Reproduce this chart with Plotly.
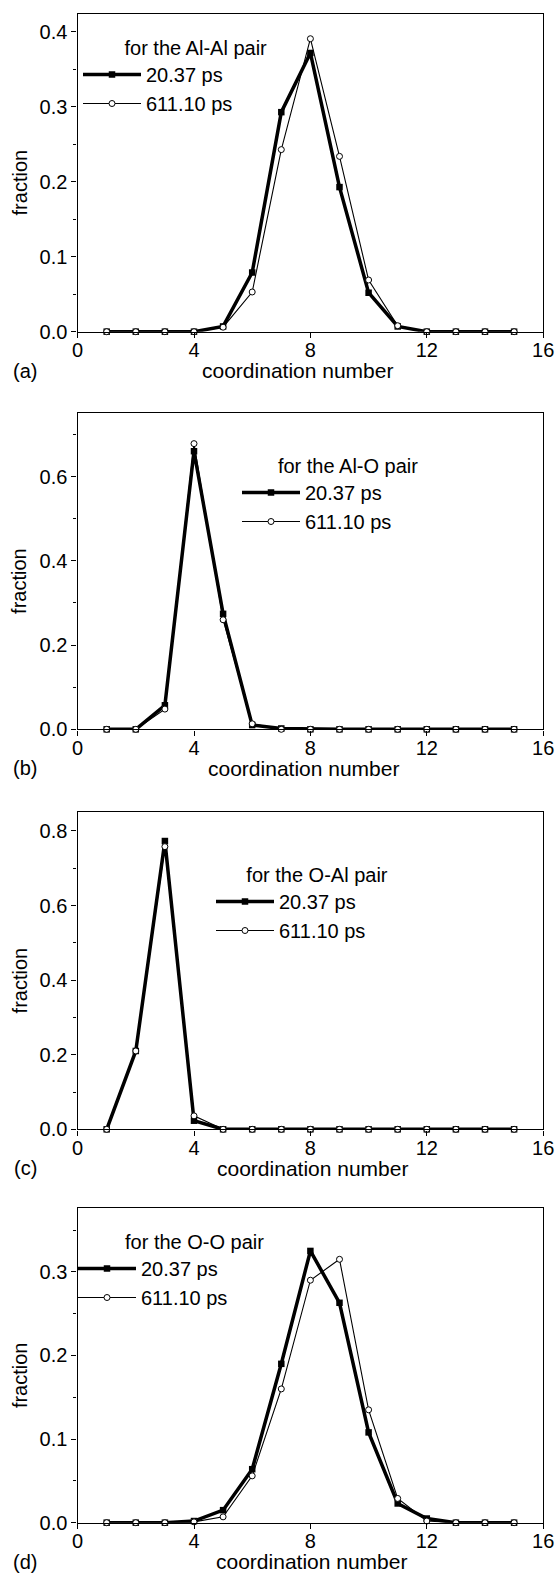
import plotly.graph_objects as go

W, H = 557, 1575

# ---------------- data ----------------
coordination = list(range(1, 16))
series_names = ["20.37 ps", "611.10 ps"]
panel_tags = ["(a)", "(b)", "(c)", "(d)"]
pair_titles = ["for the Al-Al pair", "for the Al-O pair", "for the O-Al pair", "for the O-O pair"]

alal_2037 = [0, 0, 0, 0, 0.007, 0.079, 0.293, 0.372, 0.193, 0.052, 0.007, 0, 0, 0, 0]
alal_61110 = [0, 0, 0, 0, 0.006, 0.053, 0.243, 0.391, 0.234, 0.069, 0.008, 0, 0, 0, 0]
alo_2037 = [0, 0, 0.057, 0.660, 0.274, 0.010, 0.002, 0, 0, 0, 0, 0, 0, 0, 0]
alo_61110 = [0, 0, 0.048, 0.678, 0.260, 0.013, 0, 0, 0, 0, 0, 0, 0, 0, 0]
oal_2037 = [0, 0.210, 0.773, 0.023, 0, 0, 0, 0, 0, 0, 0, 0, 0, 0, 0]
oal_61110 = [0, 0.210, 0.758, 0.036, 0, 0, 0, 0, 0, 0, 0, 0, 0, 0, 0]
oo_2037 = [0, 0, 0, 0.002, 0.015, 0.064, 0.190, 0.325, 0.263, 0.108, 0.023, 0.005, 0, 0, 0]
oo_61110 = [0, 0, 0, 0.001, 0.007, 0.056, 0.160, 0.290, 0.315, 0.135, 0.029, 0.002, 0, 0, 0]

panel_data = [(alal_2037, alal_61110), (alo_2037, alo_61110),
              (oal_2037, oal_61110), (oo_2037, oo_61110)]
y_max = [0.424, 0.75, 0.85, 0.376]
y_step = [0.1, 0.2, 0.2, 0.1]
x_ticks = [0, 4, 8, 12, 16]

# ---------------- layout geometry (pixels) ----------------
x_left, x_right = 77.6, 543.2
panel_top = [14.0, 413.3, 812.3, 1208.3]
panel_bot = [331.7, 729.3, 1129.3, 1522.7]
legend_px = [(78, 29), (237, 447), (211, 856), (73, 1223)]
title_indent = [8, 7, 6, 9]
xtitle_cx = [297, 303, 312, 311]
xtitle_gap = 39
tag_cx = 25

FONT = "Liberation Sans, Arial, Helvetica, sans-serif"
FS = 20


def px(x):
    return x / W


def py(y):
    return 1 - y / H


fig = go.Figure()
layout = dict(
    width=W, height=H,
    margin=dict(l=0, r=0, t=0, b=0, autoexpand=False),
    paper_bgcolor="white", plot_bgcolor="white",
    font=dict(family=FONT, size=FS, color="black"),
    showlegend=True,
)
annotations = []

for i in range(4):
    n = i + 1
    sfx = "" if n == 1 else str(n)
    ov = str(n + 4)
    xa, ya = "x" + sfx, "y" + sfx
    leg = "legend" + sfx
    d_new, d_old = panel_data[i]

    fig.add_trace(go.Scatter(
        x=coordination, y=d_new, name=series_names[0], mode="lines+markers",
        line=dict(color="black", width=3.5),
        marker=dict(symbol="square", size=6.5, color="black"),
        xaxis=xa, yaxis=ya, legend=leg, cliponaxis=False))
    fig.add_trace(go.Scatter(
        x=coordination, y=d_old, name=series_names[1], mode="lines+markers",
        line=dict(color="black", width=1.1),
        marker=dict(symbol="circle", size=6, color="white",
                    line=dict(color="black", width=1)),
        xaxis=xa, yaxis=ya, legend=leg, cliponaxis=False))

    ydom = [py(panel_bot[i]), py(panel_top[i])]
    xdom = [px(x_left), px(x_right)]
    common = dict(showgrid=False, zeroline=False, color="black",
                  tickfont=dict(size=FS, family=FONT))
    layout["xaxis" + sfx] = dict(
        domain=xdom, anchor=ya, range=[0, 16], tickvals=x_ticks,
        ticks="outside", ticklen=5, tickwidth=1.2, ticklabelstandoff=-5,
        showline=True, linewidth=1.4, linecolor="black", mirror=True,
        **common)
    layout["yaxis" + sfx] = dict(
        domain=ydom, anchor=xa, range=[0, y_max[i]], dtick=y_step[i], tick0=0,
        tickformat=".1f", ticks="outside", ticklen=5, tickwidth=1.2,
        minor=dict(ticks="outside", ticklen=3, tickwidth=1.2, dtick=y_step[i] / 2,
                   tick0=0, showgrid=False),
        showline=True, linewidth=1.4, linecolor="black", mirror=True,
        **common)
    # overlay axes for inward ticks on the top and right edges
    layout["xaxis" + ov] = dict(
        overlaying=xa, anchor=ya, side="top", range=[0, 16], tickvals=x_ticks,
        ticks="inside", ticklen=5, tickwidth=1.2, showticklabels=False,
        minor=dict(ticks="inside", ticklen=3, tickwidth=1.2, dtick=2, tick0=0),
        showline=False, showgrid=False, zeroline=False)
    layout["yaxis" + ov] = dict(
        overlaying=ya, anchor=xa, side="right", range=[0, y_max[i]],
        dtick=y_step[i], tick0=0,
        ticks="inside", ticklen=5, tickwidth=1.2, showticklabels=False,
        minor=dict(ticks="inside", ticklen=3, tickwidth=1.2, dtick=y_step[i] / 2, tick0=0),
        showline=False, showgrid=False, zeroline=False)

    lx, ly = legend_px[i]
    layout[leg] = dict(
        x=px(lx), y=py(ly), xanchor="left", yanchor="top",
        bgcolor="rgba(0,0,0,0)", borderwidth=0,
        font=dict(size=FS, family=FONT, color="black"),
        title=dict(text="\u00a0" * title_indent[i] + pair_titles[i],
                   font=dict(size=FS, family=FONT, color="black")),
        itemwidth=58, tracegroupgap=0,
    )

    cy = (panel_top[i] + panel_bot[i]) / 2 + 10
    annotations.append(dict(text="fraction", textangle=-90, x=px(19.6), y=py(cy),
                            xref="paper", yref="paper", showarrow=False,
                            xanchor="center", yanchor="middle",
                            font=dict(size=FS, family=FONT)))
    ty = panel_bot[i] + xtitle_gap
    annotations.append(dict(text="coordination number", x=px(xtitle_cx[i]), y=py(ty),
                            xref="paper", yref="paper", showarrow=False,
                            xanchor="center", yanchor="middle",
                            font=dict(size=21, family=FONT)))
    annotations.append(dict(text=panel_tags[i], x=px(tag_cx), y=py(ty),
                            xref="paper", yref="paper", showarrow=False,
                            xanchor="center", yanchor="middle",
                            font=dict(size=FS, family=FONT)))

layout["annotations"] = annotations
fig.update_layout(**layout)
fig.write_html("out.html")
